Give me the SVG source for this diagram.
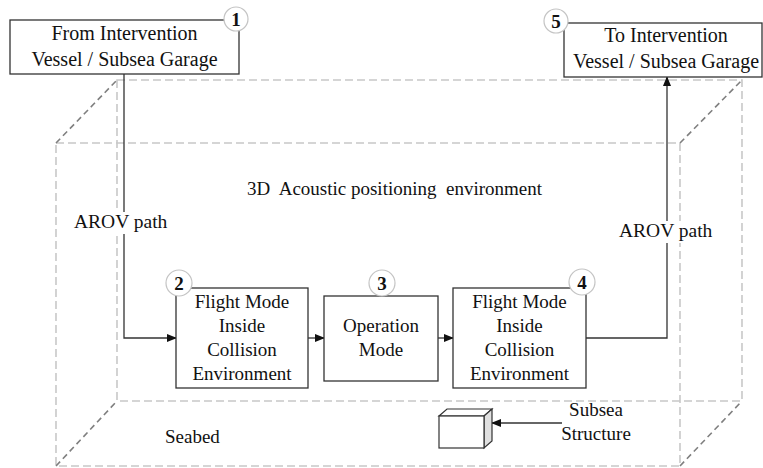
<svg xmlns="http://www.w3.org/2000/svg" width="763" height="468" viewBox="0 0 763 468">
<style>
text{font-family:"Liberation Serif","Times New Roman",serif;fill:#111;}
.t{font-size:19px;text-anchor:middle;}
.tb{font-size:20px;text-anchor:middle;}
.num{font-size:19px;font-weight:bold;text-anchor:middle;}
.box{fill:#fff;stroke:#333;stroke-width:1.3;}
.circ{fill:#fff;stroke:#c4c4c4;stroke-width:1.2;}
.edge{fill:none;stroke:#c8c8c8;stroke-width:1.6;stroke-dasharray:8 4;}
.diag{fill:none;stroke:#7f7f7f;stroke-width:1.6;stroke-dasharray:6 4;}
.conn{fill:none;stroke:#333;stroke-width:1.3;}
</style>
<defs>
<marker id="arr" markerWidth="10" markerHeight="8" refX="9" refY="4" orient="auto" markerUnits="userSpaceOnUse">
<path d="M0,0 L10,4 L0,8 Z" fill="#111"/>
</marker>
</defs>
<rect width="763" height="468" fill="#fff"/>
<g id="environment">
<rect class="edge" x="117" y="80" width="625" height="321"/>
<rect class="edge" x="56" y="143" width="624" height="323"/>
<line class="diag" x1="56" y1="143" x2="117" y2="80"/>
<line class="diag" x1="680" y1="143" x2="742" y2="80"/>
<line class="diag" x1="56" y1="466" x2="117" y2="401"/>
<line class="diag" x1="680" y1="466" x2="742" y2="401"/>
<text x="247" y="195" style="font-size:19px">3D&#160; Acoustic positioning&#160; environment</text>
<text x="165" y="443" style="font-size:19px">Seabed</text>
</g>
<g id="connectors">
<polyline class="conn" points="124,74 124,338 176,338" marker-end="url(#arr)"/>
<line class="conn" x1="308" y1="338" x2="324" y2="338" marker-end="url(#arr)"/>
<line class="conn" x1="438" y1="338" x2="453" y2="338" marker-end="url(#arr)"/>
<polyline class="conn" points="586,338 667,338 667,77" marker-end="url(#arr)"/>
<line class="conn" x1="562" y1="423" x2="492" y2="423" marker-end="url(#arr)"/>
<rect x="73" y="212" width="99" height="22" fill="#fff"/>
<text x="74" y="228" style="font-size:19.5px">AROV path</text>
<rect x="618" y="221" width="99" height="22" fill="#fff"/>
<text x="619" y="237" style="font-size:19.5px">AROV path</text>
</g>
<g id="node1">
<rect class="box" x="10" y="20" width="229" height="54"/>
<text class="tb" x="124.5" y="40">From Intervention</text>
<text class="tb" x="124.5" y="66">Vessel / Subsea Garage</text>
<circle class="circ" cx="236" cy="19" r="12"/>
<text class="num" x="236" y="26">1</text>
</g>
<g id="node5">
<rect class="box" x="564" y="23" width="198" height="54"/>
<text class="tb" x="666" y="42">To Intervention</text>
<text class="tb" x="666" y="68">Vessel / Subsea Garage</text>
<circle class="circ" cx="556" cy="21" r="12"/>
<text class="num" x="556" y="28">5</text>
</g>
<g id="node2">
<rect class="box" x="176" y="288" width="132" height="100"/>
<text class="t" x="242" y="308">Flight Mode</text>
<text class="t" x="242" y="332">Inside</text>
<text class="t" x="242" y="356">Collision</text>
<text class="t" x="242" y="380">Environment</text>
<circle class="circ" cx="179" cy="283" r="13"/>
<text class="num" x="179" y="290">2</text>
</g>
<g id="node3">
<rect class="box" x="324" y="296" width="114" height="85"/>
<text class="t" x="381" y="332">Operation</text>
<text class="t" x="381" y="356">Mode</text>
<circle class="circ" cx="382" cy="283" r="13"/>
<text class="num" x="382" y="290">3</text>
</g>
<g id="node4">
<rect class="box" x="453" y="288" width="133" height="100"/>
<text class="t" x="519.5" y="308">Flight Mode</text>
<text class="t" x="519.5" y="332">Inside</text>
<text class="t" x="519.5" y="356">Collision</text>
<text class="t" x="519.5" y="380">Environment</text>
<circle class="circ" cx="582" cy="282" r="13"/>
<text class="num" x="582" y="289">4</text>
</g>
<g id="subsea">
<path d="M439,416 L447,409 L492,409 L484,416 Z" fill="#fff" stroke="#333" stroke-width="1.2"/>
<path d="M484,416 L492,409 L492,441 L484,448 Z" fill="#e0e0e0" stroke="#333" stroke-width="1.2"/>
<rect x="439" y="416" width="45" height="32" fill="#fff" stroke="#333" stroke-width="1.2"/>
<text x="596" y="416" style="font-size:19px;text-anchor:middle">Subsea</text>
<text x="596" y="440" style="font-size:19px;text-anchor:middle">Structure</text>
</g>
</svg>
